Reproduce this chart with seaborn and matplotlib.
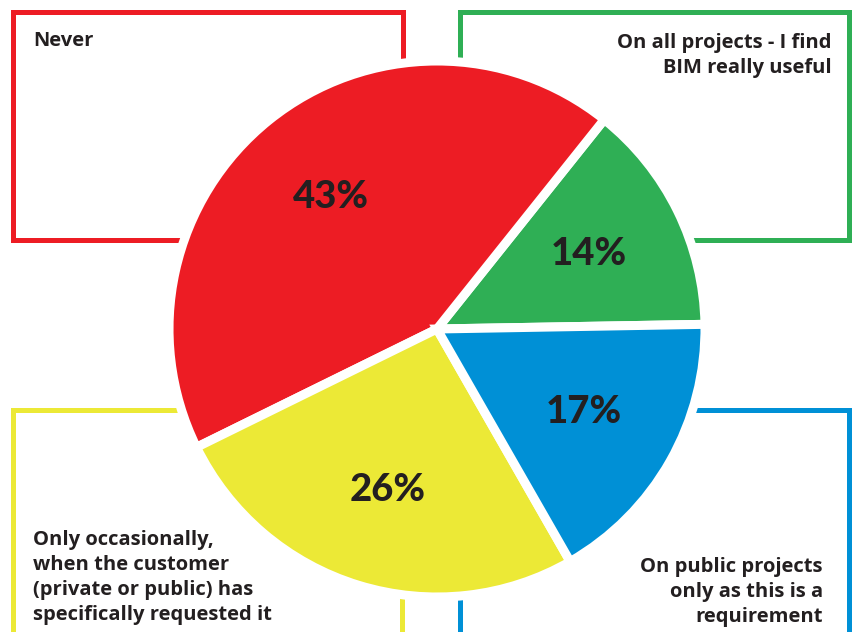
import matplotlib
matplotlib.use("Agg")
import matplotlib.pyplot as plt
from matplotlib.patches import Rectangle
import seaborn as sns

sns.set_theme(style="white")
plt.rcParams["font.family"] = ["Open Sans", "DejaVu Sans"]

# Survey answers, drawn counter-clockwise from 3 o'clock
categories = [
    "On all projects - I find\nBIM really useful",
    "Never",
    "Only occasionally,\nwhen the customer\n(private or public) has\nspecifically requested it",
    "On public projects\nonly as this is a\nrequirement",
]
shares = [14, 43, 26, 17]
colors = ["#2FAF55", "#ED1C24", "#ECE936", "#0090D6"]
ink = "#231F20"

W, H = 853, 632
fig = plt.figure(figsize=(W / 100, H / 100), dpi=100)
ax = fig.add_axes([0, 0, 1, 1])

# Framed caption boxes in the four corners (pixel units, y up)
boxes = [
    (458, H - 243, 852 - 458, 243 - 10),   # top right
    (11, H - 243, 406 - 11, 243 - 10),     # top left
    (11, -20, 405 - 11, H - 407 + 20),     # bottom left
    (458, -20, 852 - 458, H - 407 + 20),   # bottom right
]
for (x, y, w, h), c in zip(boxes, colors):
    ax.add_patch(Rectangle((x + 2.5, y + 2.5), w - 5, h - 5, fill=False,
                           edgecolor=c, linewidth=3.6, zorder=1))

wedges, _, autotexts = ax.pie(
    shares, colors=colors, startangle=1, counterclock=True,
    center=(437, H - 329), radius=268,
    autopct=lambda p: f"{p:.0f}%", pctdistance=0.63,
    wedgeprops=dict(edgecolor="white", linewidth=6.5),
    textprops=dict(color=ink), frame=True,
)
for w in wedges:
    w.set_zorder(2)
for t in autotexts:
    t.set_fontfamily(["Lato", "DejaVu Sans"])
    t.set_fontweight("black")
    t.set_fontsize(27.5)
    t.set_zorder(3)

# Caption texts inside the boxes
cap = dict(color=ink, fontsize=14.5, fontweight="bold", va="baseline", zorder=4)
step = 25
placements = [
    (832, H - 48, "right"),
    (33, H - 46, "left"),
    (33, H - 545, "left"),
    (823, H - 572, "right"),
]
for label, (x, y0, ha) in zip(categories, placements):
    for i, line in enumerate(label.split("\n")):
        ax.text(x, y0 - i * step, line, ha=ha, **cap)

ax.set_xlim(0, W)
ax.set_ylim(0, H)
ax.set_aspect("equal")
ax.axis("off")
fig.savefig("out.png", dpi=100, facecolor="white")
